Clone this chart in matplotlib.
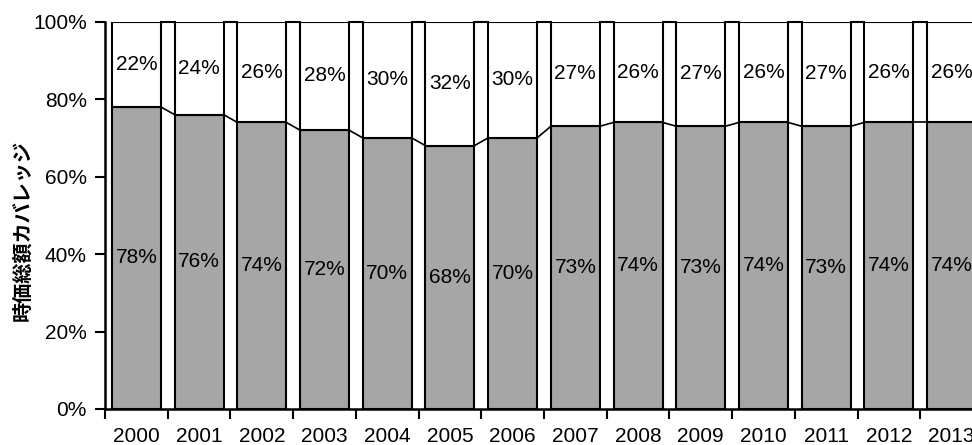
import matplotlib
matplotlib.use("Agg")
import matplotlib.pyplot as plt
import numpy as np

years = ["2000", "2001", "2002", "2003", "2004", "2005", "2006",
         "2007", "2008", "2009", "2010", "2011", "2012", "2013"]
covered = [78, 76, 74, 72, 70, 68, 70, 73, 74, 73, 74, 73, 74, 74]
uncovered = [22, 24, 26, 28, 30, 32, 30, 27, 26, 27, 26, 27, 26, 26]
ylabel = "時価総額カバレッジ"
yticks = [0, 20, 40, 60, 80, 100]

plt.rcParams['font.family'] = ['Liberation Sans', 'Noto Sans CJK JP', 'DejaVu Sans']

W, H = 972, 445
fig = plt.figure(figsize=(W / 100, H / 100), dpi=100)
left = 105 / W
right = 983 / W
bottom = 1 - 409 / H
top = 1 - 21.7 / H
ax = fig.add_axes([left, bottom, right - left, top - bottom])

n = len(years)
x = np.arange(n)
bw = 0.78
fs = 15
ax.bar(x, covered, width=bw, color="#a6a6a6", edgecolor="black", linewidth=1.5, zorder=2)
ax.bar(x, uncovered, width=bw, bottom=covered, color="white", edgecolor="black", linewidth=1.5, zorder=2)

# series lines
for i in range(n - 1):
    ax.plot([x[i] + bw / 2, x[i + 1] - bw / 2], [covered[i], covered[i + 1]],
            color="black", lw=1.2, zorder=1, clip_on=False)
    tot_a = covered[i] + uncovered[i]
    tot_b = covered[i + 1] + uncovered[i + 1]
    ax.plot([x[i] + bw / 2, x[i + 1] - bw / 2], [tot_a, tot_b],
            color="black", lw=1.5, zorder=1, clip_on=False)

for i in range(n):
    ax.text(x[i], covered[i] / 2, f"{covered[i]}%", ha="center", va="center",
            fontsize=fs, zorder=3)
    ax.text(x[i], covered[i] + uncovered[i] / 2, f"{uncovered[i]}%", ha="center",
            va="center", fontsize=fs, zorder=3)

ax.set_xlim(-0.5, n - 0.5)
ax.set_ylim(0, 100)
ax.set_yticks(yticks)
ax.set_yticklabels([f"{v}%" for v in yticks], fontsize=fs)
ax.set_xticks(x)
ax.set_xticklabels(years, fontsize=fs)
ax.set_xticks(np.arange(n + 1) - 0.5, minor=True)
ax.tick_params(axis="x", which="major", length=0, pad=13)
ax.tick_params(axis="x", which="minor", length=7, width=1.5, direction="out")
ax.tick_params(axis="y", length=7, width=1.5, direction="out", pad=6)

for s in ["top", "right"]:
    ax.spines[s].set_visible(False)
for s in ["left", "bottom"]:
    ax.spines[s].set_linewidth(1.8)
    ax.spines[s].set_zorder(4)

fig.text(22 / W, 1 - 230 / H, ylabel, rotation=90, ha="center", va="center",
         fontsize=14.5, fontweight="bold", family=['Noto Sans CJK JP', 'DejaVu Sans'])

fig.savefig("out.png", dpi=100)
